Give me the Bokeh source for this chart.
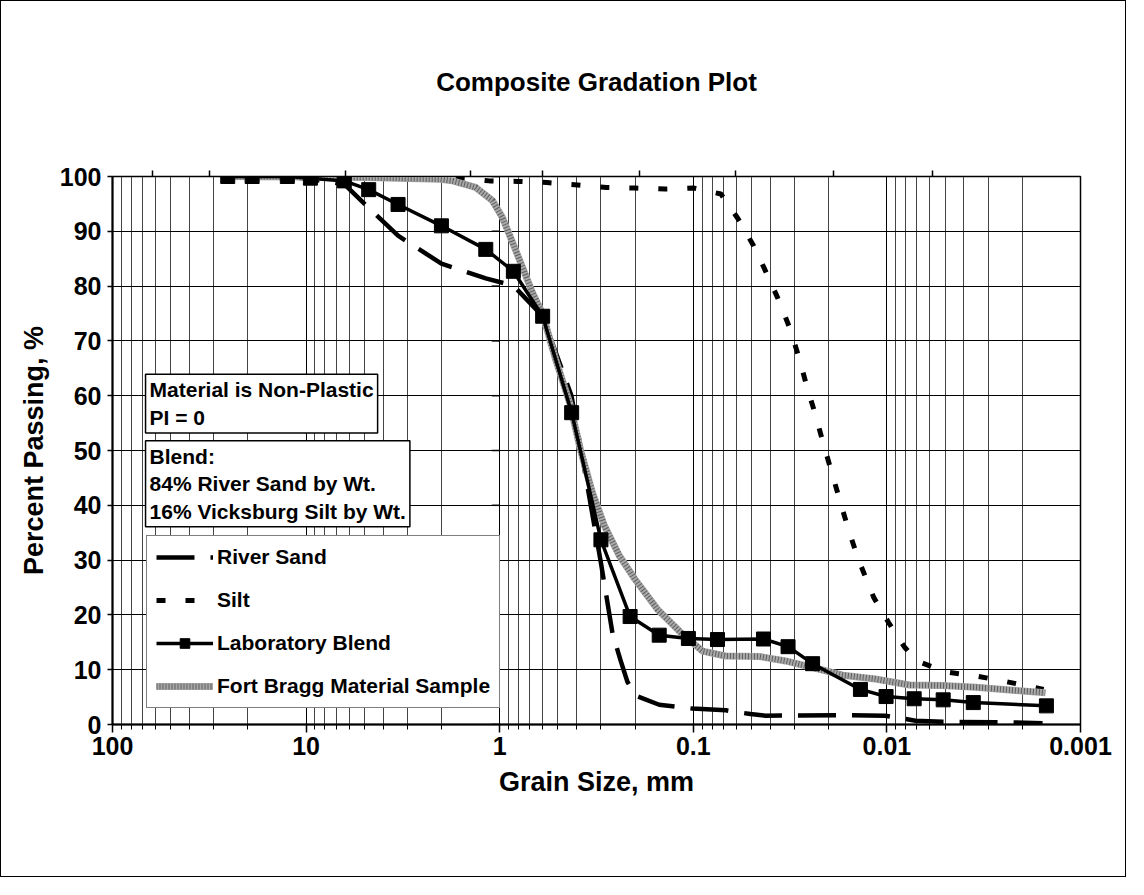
from bokeh.plotting import figure
from bokeh.models import (Range1d, LogAxis, FixedTicker, Label, Legend, LegendItem)
from bokeh.embed import file_html
from bokeh.resources import INLINE

FONT = "Liberation Sans"

# ---------------- data (grain size mm, percent passing) ----------------
blend_size = [25.4, 19.0, 12.5, 9.5, 6.35, 4.75, 3.35, 2.0, 1.18, 0.85, 0.6, 0.425,
              0.3, 0.212, 0.15, 0.106, 0.075, 0.0434, 0.0324, 0.0242, 0.0137, 0.0101,
              0.00723, 0.00512, 0.00358, 0.0015]
blend_pct = [100, 100, 100, 99.7, 99.2, 97.6, 94.9, 91.0, 86.7, 82.7, 74.5, 56.9,
             33.7, 19.7, 16.3, 15.7, 15.5, 15.6, 14.2, 11.1, 6.4, 5.1,
             4.7, 4.5, 4.0, 3.4]

sand_size = [25.4, 19.0, 12.5, 9.5, 6.35, 4.75, 3.35, 2.0, 1.18, 0.85, 0.6, 0.426,
             0.3, 0.261, 0.2375, 0.219, 0.199, 0.15, 0.101, 0.068, 0.0507, 0.0424,
             0.0164, 0.0102, 0.00711, 0.00516, 0.00244, 0.00157]
sand_pct = [100, 100, 100, 99.5, 98.6, 94.3, 89.2, 84.1, 81.4, 80.1, 74.5, 60.0,
            29.5, 16.5, 11.7, 7.8, 5.3, 3.6, 2.9, 2.6, 1.9, 1.6,
            1.7, 1.6, 0.7, 0.5, 0.4, 0.25]

silt_size = [4.75, 2.0, 1.38, 1.13, 0.81, 0.57, 0.41, 0.28, 0.20, 0.14, 0.10, 0.072,
             0.0585, 0.0489, 0.0428, 0.0367, 0.0318, 0.0283, 0.0257, 0.0237, 0.0215,
             0.0195, 0.0176, 0.0159, 0.0141, 0.0117, 0.0098, 0.0081, 0.0070, 0.0050,
             0.0034, 0.0024, 0.00155]
silt_pct = [100, 99.8, 99.5, 99.2, 99.1, 98.9, 98.5, 98.0, 97.9, 97.7, 97.9, 96.8,
            92.2, 87.4, 83.1, 77.9, 72.4, 66.7, 61.2, 57.2, 51.8,
            46.6, 41.2, 35.9, 30.3, 23.2, 18.6, 14.1, 11.6, 9.6,
            8.8, 7.8, 6.4]

fb_size = [25.4, 9.84, 4.8, 2.02, 1.75, 1.33, 1.09, 0.968, 0.859, 0.762, 0.677, 0.601,
           0.515, 0.436, 0.383, 0.332, 0.288, 0.241, 0.201, 0.153, 0.114, 0.0896,
           0.0682, 0.0455, 0.0334, 0.0242, 0.0169, 0.01145, 0.00764, 0.00516,
           0.00348, 0.00233, 0.00152]
fb_pct = [100, 99.9, 99.8, 99.5, 99.2, 98.0, 95.6, 92.5, 88.0, 83.4, 78.8, 75.0,
          66.7, 58.8, 50.2, 42.3, 36.3, 30.8, 26.6, 21.0, 16.5, 13.4,
          12.5, 12.4, 11.6, 10.4, 9.0, 8.3, 7.2, 7.1,
          6.8, 6.3, 5.8]

x_tick_values = [100, 10, 1, 0.1, 0.01, 0.001]
x_tick_labels = ["100", "10", "1", "0.1", "0.01", "0.001"]
y_tick_values = [0, 10, 20, 30, 40, 50, 60, 70, 80, 90, 100]
top_tick_values = [62.1, 31.5, 6.26, 1.416, 0.601, 0.190, 0.0605, 0.0189, 0.0058]

title_text = "Composite Gradation Plot"
series_names = ["River Sand", "Silt", "Laboratory Blend", "Fort Bragg Material Sample"]
note1 = "Material is Non-Plastic\nPI = 0"
note2 = "Blend:\n84% River Sand by Wt.\n16% Vicksburg Silt by Wt."

# ---------------- figure ----------------
p = figure(width=1126, height=877, x_axis_type="log",
           x_range=Range1d(100, 0.001), y_range=Range1d(0, 100),
           output_backend="svg", toolbar_location=None,
           min_border_left=111, min_border_right=47,
           min_border_top=175, min_border_bottom=154,
           background_fill_color="white", border_fill_color="white")
p.styles = {"border": "1px solid black"}

p.outline_line_color = "black"
p.outline_line_width = 1.5

minor = [m * 10.0 ** e for e in range(-3, 2) for m in range(2, 10)]
xt = FixedTicker(ticks=x_tick_values, minor_ticks=minor)
yt = FixedTicker(ticks=y_tick_values)

xa = p.xaxis[0]
xa.ticker = xt
xa.major_label_overrides = {v: s for v, s in zip(x_tick_values, x_tick_labels)}
xa.axis_label = "Grain Size, mm"
ya = p.yaxis[0]
ya.ticker = yt
ya.axis_label = "Percent Passing, %"
for ax in (xa, ya):
    ax.axis_label_text_font = FONT
    ax.axis_label_text_font_size = "27px"
    ax.axis_label_text_font_style = "bold"
    ax.axis_label_text_color = "black"
    ax.major_label_text_font = FONT
    ax.major_label_text_font_size = "25px"
    ax.major_label_text_font_style = "bold"
    ax.major_label_text_color = "black"
    ax.axis_line_color = "black"
    ax.axis_line_width = 2
    ax.major_tick_line_color = "black"
    ax.major_tick_line_width = 1.5
    ax.minor_tick_line_color = "black"
    ax.major_tick_in = 0
    ax.minor_tick_in = 0
xa.major_tick_out = 8
xa.minor_tick_out = 5
xa.major_label_standoff = 4
xa.axis_label_standoff = 9
ya.major_tick_out = 5
ya.major_label_standoff = 6
ya.axis_label_standoff = 8

p.xgrid.ticker = xt
p.ygrid.ticker = yt
p.xgrid.grid_line_color = "black"
p.xgrid.grid_line_width = 1
p.xgrid.minor_grid_line_color = "#444444"
p.xgrid.minor_grid_line_width = 1
p.ygrid.grid_line_color = "black"
p.ygrid.grid_line_width = 1

# top axis: tick marks only, and carries the chart title as its label
top = LogAxis(ticker=FixedTicker(ticks=top_tick_values), major_label_text_color=None,
              major_tick_out=6, major_tick_in=0, axis_line_color="black",
              major_tick_line_color="black", major_tick_line_width=1.5,
              major_label_text_font_size="1px", major_label_standoff=2,
              axis_label=title_text, axis_label_text_font=FONT,
              axis_label_text_font_size="26px", axis_label_text_font_style="bold",
              axis_label_text_color="black", axis_label_standoff=74)
p.add_layout(top, "above")

# tick marks along the vertical axis line at 1 mm
p.segment(x0=[1] * len(y_tick_values), y0=y_tick_values,
          x1=[1.1] * len(y_tick_values), y1=y_tick_values,
          line_color="black", line_width=1.5)

# ---------------- series ----------------
r_sand = p.line(sand_size, sand_pct, line_color="black", line_width=4.5,
                line_dash="38 16", line_join="round")
r_silt = p.line(silt_size, silt_pct, line_color="black", line_width=5,
                line_dash="9 20")
r_fb = p.line(fb_size, fb_pct, line_color="#a8a8a8", line_width=7, line_join="round")
r_fb2 = p.line(fb_size, fb_pct, line_color="#5e5e5e", line_width=6,
               line_dash="1 2")
r_bl = p.line(blend_size, blend_pct, line_color="black", line_width=3.5, line_join="round")
r_bm = p.scatter(blend_size, blend_pct, marker="square", size=14,
                 fill_color="black", line_color="black")

legend = Legend(items=[LegendItem(label=series_names[0], renderers=[r_sand]),
                       LegendItem(label=series_names[1], renderers=[r_silt]),
                       LegendItem(label=series_names[2], renderers=[r_bl, r_bm]),
                       LegendItem(label=series_names[3], renderers=[r_fb, r_fb2])],
                location=(34, 16), orientation="vertical")
legend.border_line_color = "black"
legend.border_line_width = 1.5
legend.background_fill_color = "white"
legend.background_fill_alpha = 1
legend.label_text_font = FONT
legend.label_text_font_size = "21px"
legend.label_text_font_style = "bold"
legend.label_text_color = "black"
legend.glyph_width = 57
legend.glyph_height = 24
legend.label_height = 24
legend.label_standoff = 4
legend.spacing = 19
legend.padding = 9
legend.margin = 0
p.add_layout(legend)

for txt, xv, yv in ((note1, 67.5, 63.9), (note2, 67.5, 51.8)):
    p.add_layout(Label(x=xv, y=yv, text=txt, anchor="top_left",
                       text_font=FONT, text_font_size="21px", text_font_style="bold",
                       text_color="black", text_line_height=1.2, padding=4,
                       background_fill_color="white", border_line_color="black",
                       border_line_width=1.5))

open("out.html", "w").write(file_html(p, INLINE))
